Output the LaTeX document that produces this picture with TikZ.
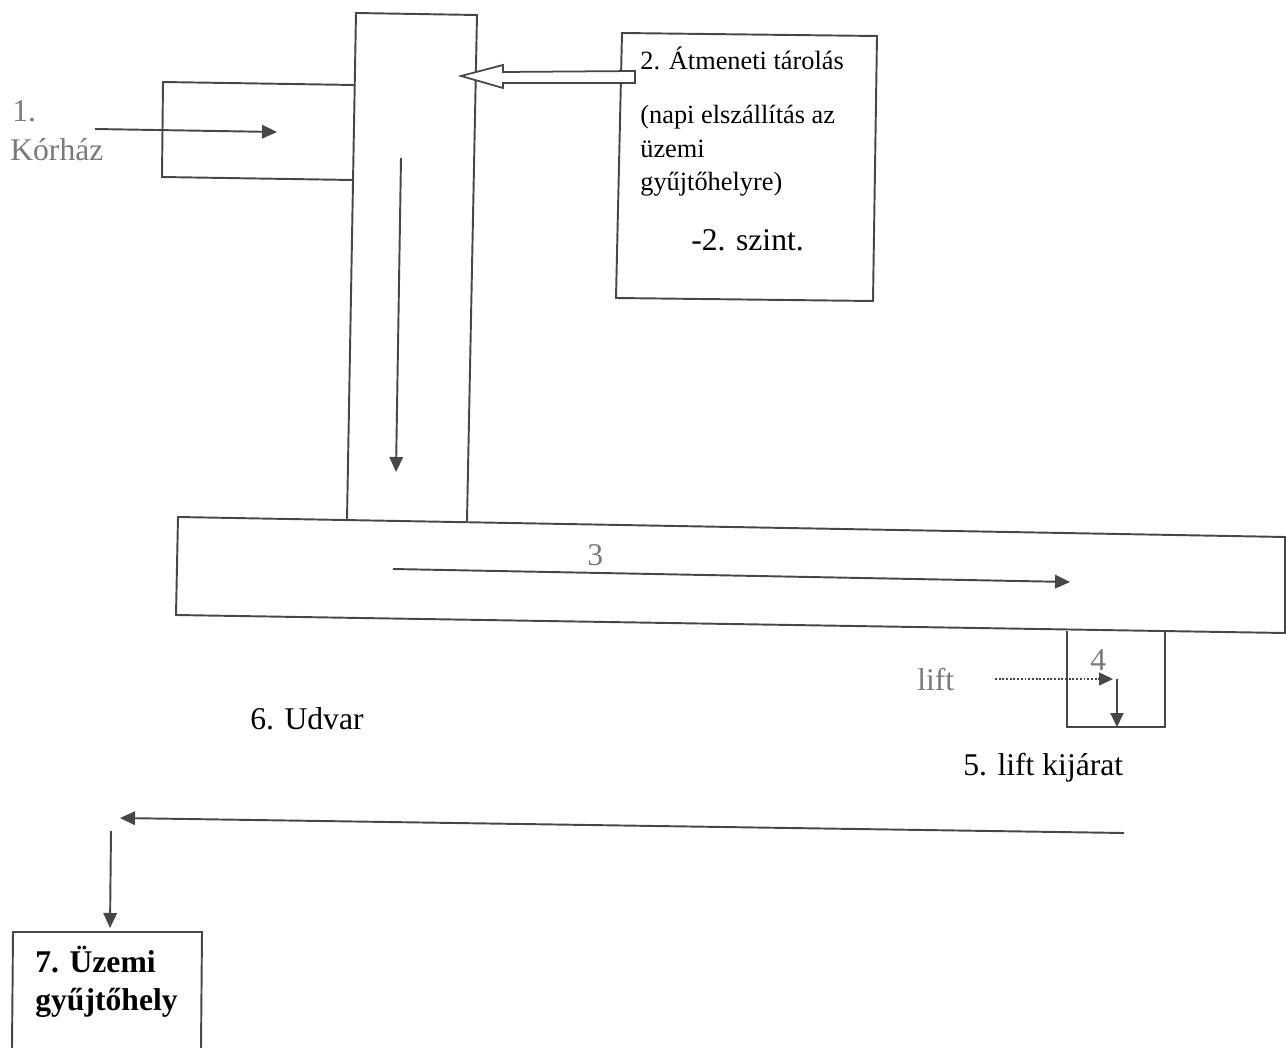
\documentclass[tikz,border=0pt]{standalone}
\usepackage{fontspec}
\setmainfont{Liberation Serif}
\usetikzlibrary{arrows.meta}
\definecolor{inkgray}{HTML}{474747}
\definecolor{labelgray}{HTML}{7A7A7A}
\tikzstyle{wall} = [draw=inkgray, line width=1.1pt]
\tikzstyle{flow} = [draw=inkgray, line width=1.1pt,
   -{Triangle[length=0.3cm,width=0.27cm]}]
\tikzstyle{liftFlow} = [draw=inkgray, line width=1.1pt,
   -{Triangle[length=0.28cm,width=0.26cm]}]
\tikzstyle{openArrow} = [draw=inkgray, line width=1pt, fill=white, line join=miter]
\tikzstyle{bigText} = [font=\fontsize{18}{21}\selectfont, inner sep=0pt, anchor=base west]
\tikzstyle{smallText} = [font=\fontsize{15}{18}\selectfont, inner sep=0pt, anchor=base west]

\begin{document}
\begin{tikzpicture}[x=0.02cm, y=-0.02cm]
  \useasboundingbox (0,0) rectangle (1286,1048);

  % walls of the plan
  \draw[wall] (355,85) -- (163,82) -- (162,177) -- (353,180); % hospital wing
  \draw[wall] (347,520) -- (356,13) -- (477,15) -- (467,521); % corridor
  \draw[wall] (178,517) -- (1285,537) -- (1285,633) -- (176,615) -- cycle; % hall
  \draw[wall] (1067,631) -- (1067,727) -- (1165,727) -- (1165,632); % lift
  \draw[wall] (622,33) -- (877,36) -- (873,301) -- (616,298) -- cycle; % storage
  \draw[wall] (12,1048) -- (13,932) -- (202,932) -- (201,1048); % collection point

  % texts
  \node[bigText, text=labelgray] (hospNum) at (12,121) {1.};
  \node[bigText, text=labelgray] (hosp) at (10,160) {Kórház};
  \node[smallText] (store) at (640,70) {2. Átmeneti tárolás};
  \node[smallText] (storeA) at (640,123) {(napi elszállítás az};
  \node[smallText] (storeB) at (640,157) {üzemi};
  \node[smallText] (storeC) at (640,190) {gyűjtőhelyre)};
  \node[bigText] (level) at (691,250) {-2. szint.};
  \node[bigText, text=labelgray] (hallNum) at (587,565) {3};
  \node[bigText, text=labelgray] (liftNum) at (1090,670) {4};
  \node[bigText, text=labelgray] (lift) at (917,690) {lift};
  \node[bigText] (liftExit) at (963,775) {5. lift kijárat};
  \node[bigText] (yard) at (250,729) {6. Udvar};
  \node[bigText, font=\fontsize{18}{21}\selectfont\bfseries] (collect) at (35,972) {7. Üzemi};
  \node[bigText, font=\fontsize{18}{21}\selectfont\bfseries] (collectB) at (35,1010) {gyűjtőhely};

  % flow of the waste
  \coordinate (hospIn) at (95,129);
  \coordinate (hospEnd) at (277,132);
  \coordinate (corrTop) at (401,158);
  \coordinate (corrEnd) at (396,472);
  \coordinate (hallIn) at (393,569);
  \coordinate (hallEnd) at (1070,582);
  \coordinate (liftIn) at (995,679);
  \coordinate (liftMid) at (1113,679);
  \coordinate (liftTop) at (1117,679);
  \coordinate (liftOut) at (1117,727);
  \coordinate (yardIn) at (1124,833);
  \coordinate (yardEnd) at (120,818);
  \coordinate (dropIn) at (111,831);
  \coordinate (dropEnd) at (110,928);

  \draw[flow] (hospIn) -- (hospEnd);
  \draw[flow] (corrTop) -- (corrEnd);
  \draw[flow] (hallIn) -- (hallEnd);
  \draw[liftFlow, densely dotted, line width=0.8pt] (liftIn) -- (liftMid);
  \draw[liftFlow] (liftTop) -- (liftOut);
  \draw[flow] (yardIn) -- (yardEnd);
  \draw[flow] (dropIn) -- (dropEnd);

  % open arrow from the storage
  \coordinate (storeTip) at (461,76);
  \draw[openArrow] (storeTip) -- ++(42,-11) -- ++(0,7) -- ++(132,-1) -- ++(0,12)
    -- ++(-132,0) -- ++(0,5) -- cycle;
\end{tikzpicture}
\end{document}
